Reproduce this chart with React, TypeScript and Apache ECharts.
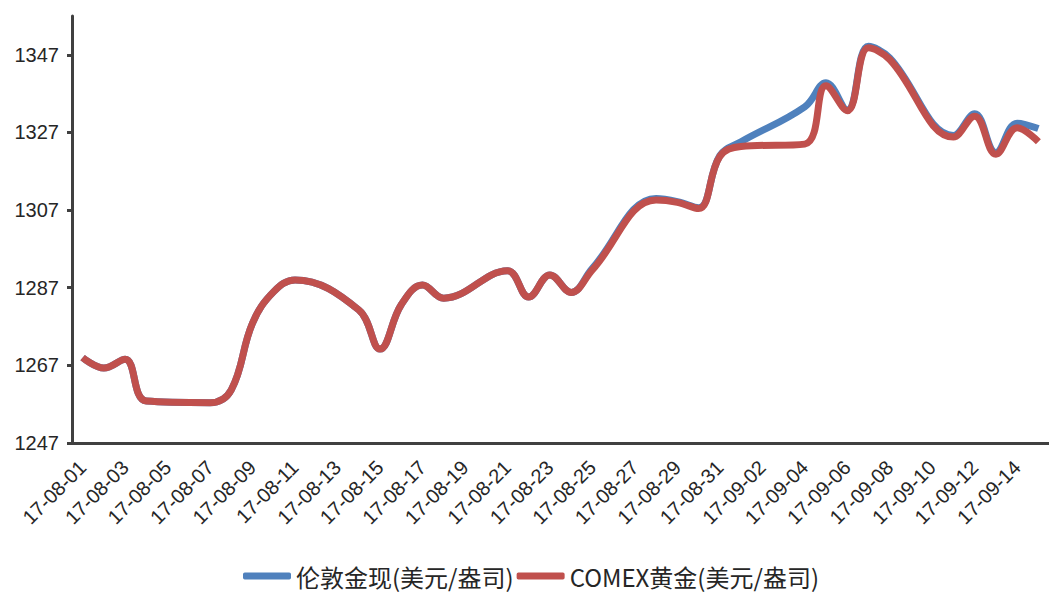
import React, { useEffect, useRef } from "react";
import * as echarts from "echarts";

const dates = [
  "17-08-01","17-08-02","17-08-03","17-08-04","17-08-05","17-08-06","17-08-07","17-08-08","17-08-09","17-08-10",
  "17-08-11","17-08-12","17-08-13","17-08-14","17-08-15","17-08-16","17-08-17","17-08-18","17-08-19","17-08-20",
  "17-08-21","17-08-22","17-08-23","17-08-24","17-08-25","17-08-26","17-08-27","17-08-28","17-08-29","17-08-30",
  "17-08-31","17-09-01","17-09-02","17-09-03","17-09-04","17-09-05","17-09-06","17-09-07","17-09-08","17-09-09",
  "17-09-10","17-09-11","17-09-12","17-09-13","17-09-14","17-09-15",
];

// London spot gold (USD/oz); null = no quote (weekend)
const londonSpot: (number | null)[] = [
  1269.0, 1266.3, 1268.6, 1257.8, null, null, 1257.4, 1260.7, 1277.9, 1286.0,
  1289.0, null, null, 1281.3, 1271.2, 1282.6, 1287.7, 1284.3, null, null,
  1291.4, 1284.6, 1290.3, 1285.8, 1292.0, null, null, 1310.0, 1309.2, 1307.6,
  1321.0, 1324.6, null, null, 1333.6, 1339.8, 1332.8, 1349.2, 1346.2, null,
  null, 1326.2, 1331.8, 1321.8, 1329.4, 1328.0,
];

// COMEX gold (USD/oz)
const comexGold: (number | null)[] = [
  1269.0, 1266.3, 1268.6, 1257.8, null, null, 1257.4, 1260.7, 1277.9, 1286.0,
  1289.0, null, null, 1281.3, 1271.2, 1282.6, 1287.7, 1284.3, null, null,
  1291.4, 1284.6, 1290.3, 1285.8, 1291.6, null, null, 1309.6, 1309.0, 1307.4,
  1320.8, 1323.4, null, null, 1324.0, 1339.0, 1332.6, 1348.8, 1345.8, null,
  null, 1325.8, 1331.2, 1321.4, 1328.2, 1324.6,
];

const yTicks = [1247, 1267, 1287, 1307, 1327, 1347];

const seriesNames = ["伦敦金现(美元/盎司)", "COMEX黄金(美元/盎司)"];
const colors = ["#4F81BD", "#C0504D"];

export default function App() {
  const ref = useRef<HTMLDivElement>(null);
  useEffect(() => {
    if (!ref.current) return;
    const chart = echarts.init(ref.current, undefined, { renderer: "svg" });
    const axisColor = "#404040";
    const font = "'Liberation Sans', Arial, sans-serif";
    chart.setOption({
      animation: false,
      backgroundColor: "#ffffff",
      grid: { left: 72, top: 16, width: 986, height: 427 },
      legend: {
        bottom: 1,
        left: 238,
        itemWidth: 48,
        itemHeight: 7,
        itemGap: 3,
        icon: "roundRect",
        textStyle: { fontFamily: "'Noto Sans CJK SC', sans-serif", fontSize: 24, color: "#262626" },
        data: seriesNames,
      },
      xAxis: {
        type: "category",
        data: dates,
        boundaryGap: true,
        axisLine: { lineStyle: { color: axisColor, width: 3 } },
        axisTick: { interval: 1, length: 6, lineStyle: { color: axisColor, width: 3 } },
        axisLabel: {
          interval: 1,
          rotate: 45,
          margin: 21,
          fontFamily: font,
          fontSize: 20,
          color: "#262626",
        },
        splitLine: { show: false },
      },
      yAxis: {
        type: "value",
        min: 1247,
        max: 1357,
        axisLine: { show: true, lineStyle: { color: axisColor, width: 3 } },
        axisTick: { show: true, length: 5, customValues: yTicks, lineStyle: { color: axisColor, width: 3 } },
        axisLabel: {
          customValues: yTicks,
          formatter: (v: number) => String(v),
          margin: 13,
          fontFamily: font,
          fontSize: 20,
          color: "#262626",
        },
        splitLine: { show: false },
      },
      series: [
        {
          name: seriesNames[0],
          type: "line",
          data: londonSpot,
          smooth: 0.4,
          connectNulls: true,
          showSymbol: false,
          lineStyle: { color: colors[0], width: 7 },
          itemStyle: { color: colors[0] },
        },
        {
          name: seriesNames[1],
          type: "line",
          data: comexGold,
          smooth: 0.4,
          connectNulls: true,
          showSymbol: false,
          lineStyle: { color: colors[1], width: 7 },
          itemStyle: { color: colors[1] },
        },
      ],
    });
    return () => chart.dispose();
  }, []);
  return (
    <div
      ref={ref}
      style={{ position: "fixed", left: 0, top: 0, width: 1049, height: 594, background: "#fff" }}
    />
  );
}
